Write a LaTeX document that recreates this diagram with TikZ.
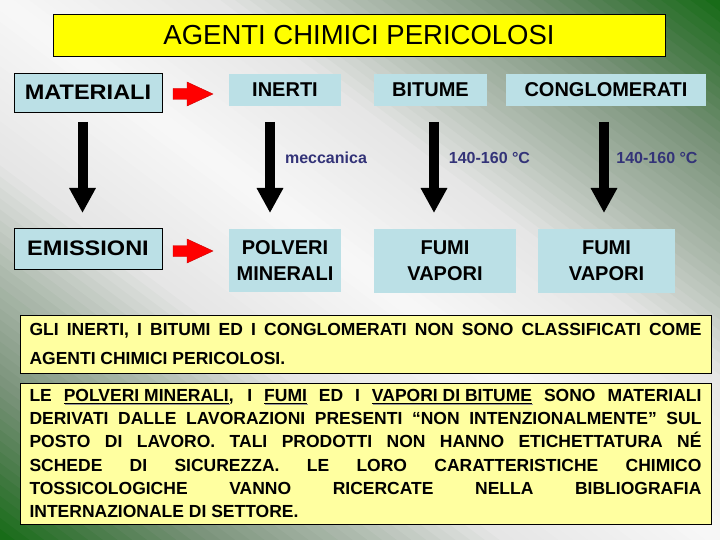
\documentclass[tikz,border=0pt]{standalone}
\usepackage{fontspec}
\setmainfont{Liberation Sans}
\usepackage{graphicx}
\usetikzlibrary{arrows.meta}
\definecolor{boxblue}{RGB}{187,224,230}
\definecolor{titleyellow}{RGB}{255,255,0}
\definecolor{noteyellow}{RGB}{255,255,160}
\definecolor{lblblue}{RGB}{51,51,120}
\definecolor{arrowred}{RGB}{255,0,0}
\definecolor{shadowgray}{RGB}{150,150,150}
\newcommand{\shadowul}[1]{\rlap{\kern1.3pt\raisebox{-1.3pt}{\textcolor{shadowgray}{\underline{\phantom{#1}}}}}\underline{#1}}
\begin{document}
\begin{tikzpicture}[x=1pt,y=-1pt,
  bluebox/.style={fill=boxblue, inner sep=0pt, font=\fontsize{20}{26}\selectfont\bfseries, align=center},
  framedbox/.style={bluebox, draw=black, line width=0.8pt, font=\fontsize{21}{26}\selectfont\bfseries},
  titlebox/.style={fill=titleyellow, draw=black, line width=0.8pt, inner sep=0pt, minimum width=612pt, minimum height=42pt, font=\fontsize{27.5}{30}\selectfont},
  notebox/.style={fill=noteyellow, draw=black, line width=0.8pt, inner ysep=0pt, inner xsep=9.5pt, minimum width=691pt, font=\fontsize{17.5}{23.3}\selectfont\bfseries},
  lbltext/.style={text=lblblue, inner sep=0pt, font=\fontsize{16}{18}\selectfont\bfseries},
  redarrow/.style={fill=arrowred, draw=arrowred!80!black, line width=0.4pt},
  downarrow/.style={line width=10pt, black, -{Triangle[width=25pt,length=25pt]}}
]
\useasboundingbox (0,0) rectangle (720,540);
% background gradient
\begin{scope}
\clip (0,0) rectangle (720,540);
\foreach \i in {0,...,99} {
  \pgfmathsetmacro{\tz}{-1.02+\i*0.0204}
  \pgfmathsetmacro{\tw}{\tz+0.0244}
  \pgfmathsetmacro{\s}{min(abs(\tz+0.0102),1)}
  \pgfmathsetmacro{\rr}{\s<0.3 ? 0.97-0.07*\s/0.3 : (\s<0.5 ? 0.90-0.22*(\s-0.3)/0.2 : (\s<0.72 ? 0.68-0.21*(\s-0.5)/0.22 : (\s<0.86 ? 0.47-0.19*(\s-0.72)/0.14 : 0.28-0.20*(\s-0.86)/0.14)))}
  \pgfmathsetmacro{\gg}{\s<0.3 ? 0.97-0.07*\s/0.3 : (\s<0.5 ? 0.90-0.17*(\s-0.3)/0.2 : (\s<0.72 ? 0.73-0.16*(\s-0.5)/0.22 : (\s<0.86 ? 0.57-0.09*(\s-0.72)/0.14 : 0.48-0.06*(\s-0.86)/0.14)))}
  \definecolor{bgc}{rgb}{\rr,\gg,\rr}
  \fill[bgc] ({720*(\tz-0.1)},-54) -- ({720*(\tw-0.1)},-54) -- ({720*(\tw+1.1)},594) -- ({720*(\tz+1.1)},594) -- cycle;
}
\end{scope}
% title
\node[titlebox] (title) at (359,35) {AGENTI CHIMICI PERICOLOSI};
% top row
\node[framedbox, minimum width=148pt, minimum height=39pt] (mat) at (88,92.5) {\scalebox{1.12}[1]{MATERIALI}};
\node[bluebox, minimum width=112pt, minimum height=32pt] (inerti) at (285,90) {INERTI};
\node[bluebox, minimum width=113pt, minimum height=32pt] (bitume) at (430.5,90) {BITUME};
\node[bluebox, minimum width=200pt, minimum height=32pt] (congl) at (606,90) {CONGLOMERATI};
% bottom row
\node[framedbox, minimum width=148pt, minimum height=41pt] (emis) at (88,248.5) {\scalebox{1.12}[1]{EMISSIONI}};
\node[bluebox, minimum width=112pt, minimum height=63pt] (polveri) at (285,260.5) {POLVERI\\MINERALI};
\node[bluebox, minimum width=142pt, minimum height=63pt] (fumi1) at (445,261) {FUMI\\VAPORI};
\node[bluebox, minimum width=137pt, minimum height=63pt] (fumi2) at (606.5,261) {FUMI\\VAPORI};
% labels
\node[lbltext] (mecc) at (326,158) {meccanica};
\node[lbltext] (temp1) at (489.5,158) {140-160 °C};
\node[lbltext] (temp2) at (657,158) {140-160 °C};
% red block arrows
\coordinate (ra1) at (193,94);
\coordinate (ra2) at (193,251);
\foreach \c in {ra1,ra2} {
  \filldraw[redarrow] (\c) ++(-20,-5.5) -- ++(14,0) -- ++(0,-6.5) -- ++(26,12) -- ++(-26,12) -- ++(0,-6.5) -- ++(-14,0) -- cycle;
}
% black down arrows
\coordinate (ba1s) at (82.5,122); \coordinate (ba1e) at (82.5,213);
\coordinate (ba2s) at (270,122);  \coordinate (ba2e) at (270,213);
\coordinate (ba3s) at (434,122);  \coordinate (ba3e) at (434,213);
\coordinate (ba4s) at (604,122);  \coordinate (ba4e) at (604,213);
\draw[downarrow] (ba1s) -- (ba1e);
\draw[downarrow] (ba2s) -- (ba2e);
\draw[downarrow] (ba3s) -- (ba3e);
\draw[downarrow] (ba4s) -- (ba4e);
% notes
\node[notebox, minimum height=58pt] (note1) at (365.5,344) {\parbox{672pt}{\tolerance=10000\fontsize{17.5}{28.3}\selectfont
GLI INERTI, I BITUMI ED I CONGLOMERATI NON SONO CLASSIFICATI COME\linebreak
AGENTI CHIMICI PERICOLOSI.}};
\node[notebox, minimum height=141pt] (note2) at (365.5,453.5) {\parbox{672pt}{\tolerance=10000\fontsize{17.5}{23.3}\selectfont
LE \shadowul{POLVERI MINERALI}, I \shadowul{FUMI} ED I \shadowul{VAPORI DI BITUME} SONO MATERIALI\linebreak
DERIVATI DALLE LAVORAZIONI PRESENTI “NON INTENZIONALMENTE” SUL\linebreak
POSTO DI LAVORO. TALI PRODOTTI NON HANNO ETICHETTATURA NÉ\linebreak
SCHEDE DI SICUREZZA. LE LORO CARATTERISTICHE CHIMICO\linebreak
TOSSICOLOGICHE VANNO RICERCATE NELLA BIBLIOGRAFIA\linebreak
INTERNAZIONALE DI SETTORE.}};
\end{tikzpicture}
\end{document}
